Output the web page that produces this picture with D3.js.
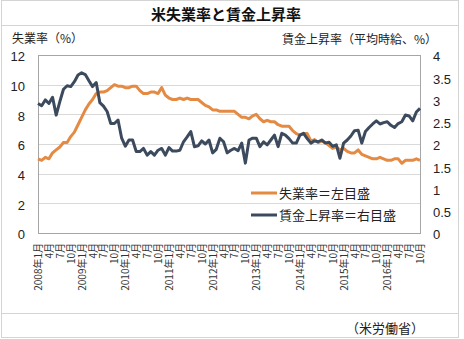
<!DOCTYPE html>
<html><head><meta charset="utf-8">
<script src="https://cdn.jsdelivr.net/npm/d3@7"></script>
<style>body{margin:0;background:#fff}svg{display:block}text{font-family:"Noto Sans CJK JP","Noto Sans",sans-serif}</style>
</head><body><svg id="c" width="464" height="339"></svg>
<script>
const years = [2008,2009,2010,2011,2012,2013,2014,2015,2016];
const months = [];
years.forEach(y=>{for(let m=1;m<=12;m++){ if(y===2016&&m>10) break; months.push({y,m}); }});
const unemployment = [
5.0,4.9,5.1,5.0,5.4,5.6,5.8,6.1,6.1,6.5,6.8,7.3,
7.8,8.3,8.7,9.0,9.4,9.5,9.5,9.6,9.8,10.0,9.9,9.9,
9.8,9.8,9.9,9.9,9.6,9.4,9.4,9.5,9.5,9.4,9.8,9.3,
9.1,9.0,9.0,9.1,9.0,9.1,9.0,9.0,9.0,8.8,8.6,8.5,
8.3,8.3,8.2,8.2,8.2,8.2,8.2,8.0,7.8,7.8,7.7,7.9,
8.0,7.7,7.5,7.6,7.5,7.5,7.3,7.2,7.2,7.2,6.9,6.7,
6.6,6.7,6.7,6.2,6.3,6.1,6.2,6.1,5.9,5.7,5.8,5.6,
5.7,5.5,5.4,5.4,5.6,5.3,5.2,5.1,5.0,5.0,5.1,5.0,
4.9,4.9,5.0,5.0,4.7,4.9,4.9,4.9,5.0,4.9];
const wageGrowth = [
2.91,2.86,2.99,2.91,3.05,2.65,2.95,3.23,3.31,3.29,3.40,3.55,
3.60,3.56,3.42,3.29,3.38,2.93,2.85,2.73,2.46,2.46,2.54,2.13,
1.95,2.09,2.09,1.83,1.83,1.90,1.75,1.83,1.75,1.86,1.90,1.75,
1.92,1.84,1.84,1.86,2.05,2.16,2.28,1.94,1.96,2.07,2.00,2.09,
1.80,1.88,2.13,2.05,1.80,1.86,1.90,1.85,2.02,1.57,2.09,2.13,
2.13,1.94,2.05,1.98,2.09,2.20,1.94,2.24,2.20,2.12,2.02,2.02,
2.20,2.24,2.12,2.02,2.07,2.05,2.09,2.02,2.04,1.95,1.98,1.68,
2.02,2.09,2.18,2.30,2.31,2.02,2.28,2.37,2.45,2.52,2.45,2.48,
2.50,2.42,2.37,2.46,2.50,2.65,2.63,2.52,2.72,2.80];
const leftTicks = [0,2,4,6,8,10,12];
const rightTicks = [0,0.5,1,1.5,2,2.5,3,3.5,4];
const monthLabels = months.map(d => d.m===1 ? `${d.y}年1月` : `${d.m}月`);
const showLabel = months.map(d => (d.m-1)%3===0);

const svg = d3.select("#c");
const L=38,R=420,T=55,B=233;
const frame="#d4d4d4";
svg.append("rect").attr("x",1.5).attr("y",0.5).attr("width",457).attr("height",337).attr("fill","none").attr("stroke",frame);
svg.append("line").attr("x1",1.5).attr("x2",458.5).attr("y1",25.5).attr("y2",25.5).attr("stroke",frame);
svg.append("line").attr("x1",1.5).attr("x2",458.5).attr("y1",313.5).attr("y2",313.5).attr("stroke",frame);

const x = d3.scalePoint().domain(d3.range(months.length)).range([L,R]);
const yL = d3.scaleLinear().domain([0,12]).range([B,T]);
const yR = d3.scaleLinear().domain([0,4]).range([B,T]);

svg.append("g").selectAll("line").data(leftTicks).join("line")
 .attr("x1",L).attr("x2",R).attr("y1",d=>Math.round(yL(d))+0.5).attr("y2",d=>Math.round(yL(d))+0.5)
 .attr("stroke","#d9d9d9");
svg.append("rect").attr("x",L+0.5).attr("y",T+0.5).attr("width",R-L).attr("height",B-T)
 .attr("fill","none").attr("stroke","#a6a6a6");

const axL = svg.append("g").attr("transform",`translate(${L},0)`)
 .call(d3.axisLeft(yL).tickValues(leftTicks).tickSize(0).tickPadding(13).tickFormat(d3.format("d")));
const axR = svg.append("g").attr("transform",`translate(${R},0)`)
 .call(d3.axisRight(yR).tickValues(rightTicks).tickSize(0).tickPadding(13).tickFormat(d=>String(d)));
[axL,axR].forEach(a=>{a.select(".domain").remove();a.selectAll("text").attr("font-size",13).attr("dy","0.45em").attr("fill","#222").style("font-family","'Liberation Sans',Arial,sans-serif");});

const axB = svg.append("g").attr("transform",`translate(0,${B})`)
 .call(d3.axisBottom(x).tickSize(0).tickFormat(i=>showLabel[i]?monthLabels[i]:""));
axB.select(".domain").remove();
axB.selectAll("text").attr("font-size",10).attr("fill","#333")
 .attr("transform","rotate(-90)").attr("text-anchor","end").attr("dx","-10px").attr("dy","0.35em").attr("y",0).attr("x",0);

svg.append("path").datum(unemployment).attr("fill","none").attr("stroke","#e58a43").attr("stroke-width",3)
 .attr("stroke-linejoin","round").attr("d",d3.line().x((d,i)=>x(i)).y(d=>yL(d)));
svg.append("path").datum(wageGrowth).attr("fill","none").attr("stroke","#3c4a5e").attr("stroke-width",3)
 .attr("stroke-linejoin","round").attr("d",d3.line().x((d,i)=>x(i)).y(d=>yR(d)));

svg.append("text").attr("x",226).attr("y",20).attr("text-anchor","middle").attr("font-size",15).attr("font-weight","bold").attr("fill","#111").text("米失業率と賃金上昇率");
svg.append("text").attr("x",12).attr("y",43).attr("font-size",12).attr("fill","#222").text("失業率（%）");
svg.append("text").attr("x",437).attr("y",44).attr("text-anchor","end").attr("font-size",12).attr("fill","#222").text("賃金上昇率（平均時給、%）");
svg.append("text").attr("x",424).attr("y",333).attr("text-anchor","end").attr("font-size",13).attr("fill","#222").text("（米労働省）");

const legend = [{name:"失業率＝左目盛",c:"#e58a43",y:193},{name:"賃金上昇率＝右目盛",c:"#3c4a5e",y:215}];
const lg = svg.append("g").selectAll("g").data(legend).join("g");
lg.append("line").attr("x1",251).attr("x2",277).attr("y1",d=>d.y).attr("y2",d=>d.y).attr("stroke",d=>d.c).attr("stroke-width",3);
lg.append("text").attr("x",279).attr("y",d=>d.y+5).attr("font-size",13).attr("fill","#222").text(d=>d.name);
</script></body></html>
